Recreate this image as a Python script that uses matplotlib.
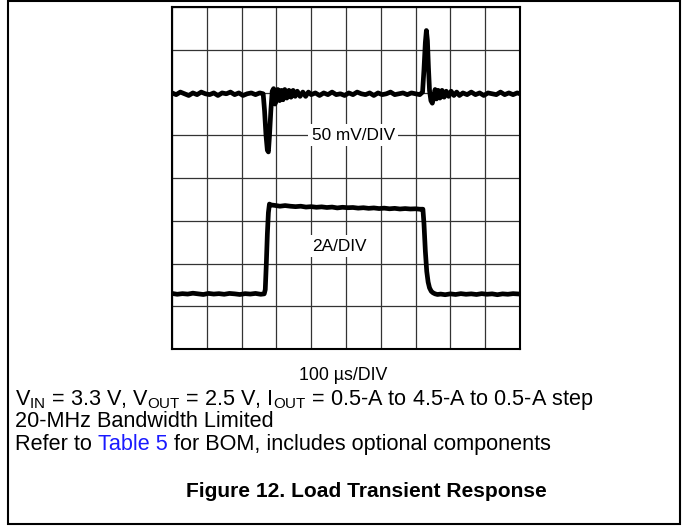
import matplotlib
matplotlib.use("Agg")
import matplotlib.pyplot as plt
from matplotlib.patches import Rectangle

plt.rcParams['font.family'] = ['Liberation Sans', 'DejaVu Sans']
plt.rcParams['mathtext.fontset'] = 'custom'
plt.rcParams['mathtext.rm'] = 'Liberation Sans'

# output voltage deviation (mV, 50 mV/DIV) vs time (us, 100 us/DIV)
v_time = [0, 12, 24, 36, 48, 60, 72, 84, 96, 108,
          120, 132, 144, 156, 168, 180, 192, 204, 216, 228,
          240, 252, 262, 266, 270, 274, 277, 280, 284, 288,
          292, 296, 300, 304, 309, 314, 319, 324, 330, 336,
          342, 348, 354, 360, 368, 376, 384, 392, 400, 412,
          424, 436, 448, 460, 472, 484, 496, 508, 520, 532,
          544, 556, 568, 580, 592, 604, 616, 628, 640, 652,
          664, 676, 688, 700, 712, 720, 724, 728, 731, 734,
          737, 740, 744, 748, 752, 756, 760, 765, 770, 776,
          782, 788, 795, 802, 810, 818, 826, 836, 848, 860,
          872, 884, 896, 908, 920, 932, 944, 956, 968, 980,
          992, 1000]
v_mv = [1, -1, 2, 0, -2, 1, -1, 2, 0, -1,
        1, -2, 1, 0, 2, -1, 1, -2, 0, 1,
        -1, 1, 0, -20, -48, -66, -68, -50, -20, 3,
        6, -12, -5, 5, -8, 4, -7, 5, -5, 4,
        -4, 4, -3, 3, -3, 2, -3, 2, -1, 1,
        -2, 1, -1, 2, -1, 0, -2, 1, -1, 2,
        0, -1, 1, -2, 1, -1, 0, 2, -1, 0,
        1, -1, 1, 0, -1, 2, 28, 60, 74, 62,
        30, 4, -8, -11, -4, 5, -6, 4, -5, 4,
        -4, 3, -3, 3, -2, 2, -2, 1, -1, 2,
        -1, 1, -2, 1, 0, -1, 2, -1, 1, -1,
        1, 0]

# load current (A, 2 A/DIV)
i_time = [0, 15, 30, 45, 60, 75, 90, 105, 120, 135,
          150, 165, 180, 195, 210, 225, 240, 255, 265, 268,
          271, 274, 277, 280, 284, 295, 310, 325, 340, 355,
          370, 385, 400, 415, 430, 445, 460, 475, 490, 505,
          520, 535, 550, 565, 580, 595, 610, 625, 640, 655,
          670, 685, 700, 712, 721, 724, 728, 732, 736, 740,
          745, 750, 756, 763, 772, 785, 800, 815, 830, 845,
          860, 875, 890, 905, 920, 935, 950, 965, 980, 1000]
i_amp = [0.52, 0.48, 0.51, 0.49, 0.53, 0.5, 0.47, 0.52, 0.49, 0.51,
         0.48, 0.52, 0.5, 0.47, 0.51, 0.49, 0.52, 0.48, 0.5, 0.7,
         1.9, 3.3, 4.3, 4.7, 4.66, 4.64, 4.6, 4.63, 4.6, 4.58,
         4.6, 4.56, 4.58, 4.55, 4.57, 4.54, 4.56, 4.52, 4.55, 4.53,
         4.54, 4.51, 4.53, 4.5, 4.52, 4.49, 4.51, 4.48, 4.5, 4.47,
         4.49, 4.47, 4.48, 4.46, 4.46, 3.8, 2.5, 1.55, 1.05, 0.78,
         0.62, 0.55, 0.5, 0.47, 0.49, 0.46, 0.5, 0.47, 0.51, 0.48,
         0.5, 0.47, 0.51, 0.48, 0.5, 0.46, 0.5, 0.48, 0.51, 0.49]

v_base = 5.97    # screen division of the voltage trace baseline
i_zero = 1.04    # screen division of 0 A

W, H = 683, 529


def fx(px):
    return px / W


def fy(py):
    return 1 - py / H


fig = plt.figure(figsize=(6.83, 5.29), dpi=100)

# outer frame
fig.add_artist(Rectangle((fx(8), fy(524)), fx(680) - fx(8), fy(1) - fy(524),
                         transform=fig.transFigure, fill=False,
                         edgecolor='black', linewidth=1.5))

ax = fig.add_axes([fx(172), fy(349), fx(520) - fx(172), fy(7) - fy(349)])
ax.set_xlim(0, 1000)
ax.set_ylim(0, 8)
ax.set_xticks(range(0, 1001, 100))
ax.set_yticks(range(0, 9))
ax.tick_params(length=0, labelbottom=False, labelleft=False)
ax.grid(color='#333333', linewidth=0.9)
for s in ax.spines.values():
    s.set_linewidth(1.5)

ax.plot(v_time, [v_base + v / 50 for v in v_mv], color='black', linewidth=3.4,
        solid_joinstyle='round')
ax.plot(i_time, [i_zero + a / 2 for a in i_amp], color='black', linewidth=3.4,
        solid_joinstyle='round')

box = dict(facecolor='white', edgecolor='none', pad=2.5)
ax.text(402, 5.0, '50 mV/DIV', fontsize=12.4, va='center', ha='left', bbox=box)
ax.text(402, 2.4, '2A/DIV', fontsize=12.4, va='center', ha='left', bbox=box)

fig.text(fx(343), fy(376), '100 µs/DIV', fontsize=12.8, ha='center', va='center')

fs = 15.6
fig.text(fx(15), fy(405),
         r'$\mathregular{V_{IN}}$ = 3.3 V, $\mathregular{V_{OUT}}$ = 2.5 V, '
         r'$\mathregular{I_{OUT}}$ = 0.5-A to 4.5-A to 0.5-A step',
         fontsize=fs, va='baseline')
fig.text(fx(15), fy(427), '20-MHz Bandwidth Limited', fontsize=fs, va='baseline')
t1 = fig.text(fx(15), fy(450), 'Refer to ', fontsize=fs, va='baseline')
t2 = ax.annotate('Table 5', xy=(1, 0), xycoords=t1, va='bottom', ha='left',
                 fontsize=fs, color='#1a1aff', annotation_clip=False)
ax.annotate(' for BOM, includes optional components', xy=(1, 0), xycoords=t2,
            va='bottom', ha='left', fontsize=fs, annotation_clip=False)

fig.text(fx(366), fy(497), 'Figure 12. Load Transient Response', fontsize=15.1,
         fontweight='bold', ha='center', va='baseline')

fig.savefig('out.png', dpi=100)
